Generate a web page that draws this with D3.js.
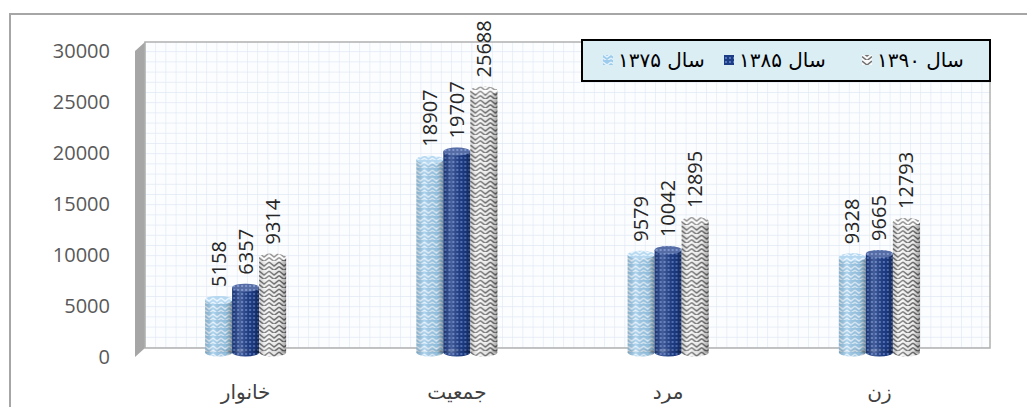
<!DOCTYPE html>
<html>
<head>
<meta charset="utf-8">
<script src="https://cdn.jsdelivr.net/npm/d3@7/dist/d3.min.js"></script>
<style>
  body { margin: 0; background: #fff; }
</style>
</head>
<body>
<svg id="chart" width="1027" height="407"></svg>
<script>
const categories = ["خانوار", "جمعیت", "مرد", "زن"];
const seriesNames = ["سال ۱۳۷۵", "سال ۱۳۸۵", "سال ۱۳۹۰"];
const values1375 = [5158, 18907, 9579, 9328];
const values1385 = [6357, 19707, 10042, 9665];
const values1390 = [9314, 25688, 12895, 12793];
const yTicks = [0, 5000, 10000, 15000, 20000, 25000, 30000];

const width = 1027, height = 407;
const svg = d3.select("#chart");
const defs = svg.append("defs");
const numFont = "'Open Sans', 'Liberation Sans', sans-serif";
const faFont = "'DejaVu Sans', sans-serif";

// patterns
const grid = defs.append("pattern").attr("id", "grid").attr("patternUnits", "userSpaceOnUse")
  .attr("width", 10.2).attr("height", 10.2).attr("x", 145).attr("y", 41);
grid.append("rect").attr("width", 10.2).attr("height", 10.2).attr("fill", "#fcfdff");
grid.append("path").attr("d", "M0,0H10.2M0,0V10.2").attr("stroke", "#e0e8f3").attr("stroke-width", 1.2);

const pLight = defs.append("pattern").attr("id", "pLight").attr("patternUnits", "userSpaceOnUse")
  .attr("width", 8).attr("height", 8);
pLight.append("rect").attr("width", 8).attr("height", 8).attr("fill", "#9ccbeb");
pLight.append("path").attr("d", "M0,2L4,5L8,2M0,6L4,9L8,6").attr("fill", "none")
  .attr("stroke", "#e4f3ff").attr("stroke-width", 1.4);

const pDark = defs.append("pattern").attr("id", "pDark").attr("patternUnits", "userSpaceOnUse")
  .attr("width", 4).attr("height", 4);
pDark.append("rect").attr("width", 4).attr("height", 4).attr("fill", "#1d3c86");
pDark.append("circle").attr("cx", 2).attr("cy", 2).attr("r", 0.9).attr("fill", "#6f90d6");

const pWhite = defs.append("pattern").attr("id", "pWhite").attr("patternUnits", "userSpaceOnUse")
  .attr("width", 10).attr("height", 9);
pWhite.append("rect").attr("width", 10).attr("height", 9).attr("fill", "#fafafa");
pWhite.append("path").attr("d", "M0,1L5,5L10,1M0,5.5L5,9.5L10,5.5").attr("fill", "none")
  .attr("stroke", "#707070").attr("stroke-width", 1.6);

const shade = defs.append("linearGradient").attr("id", "shade");
shade.append("stop").attr("offset", "0%").attr("stop-color", "#000").attr("stop-opacity", 0.15);
shade.append("stop").attr("offset", "30%").attr("stop-color", "#fff").attr("stop-opacity", 0.18);
shade.append("stop").attr("offset", "75%").attr("stop-color", "#000").attr("stop-opacity", 0.05);
shade.append("stop").attr("offset", "100%").attr("stop-color", "#000").attr("stop-opacity", 0.35);

const fills = ["url(#pLight)", "url(#pDark)", "url(#pWhite)"];

// frame
svg.append("rect").attr("x", 10).attr("y", 14).attr("width", 1040).attr("height", 420)
  .attr("fill", "#fff").attr("stroke", "#a6a6a6").attr("stroke-width", 2);

// 3d walls: front scale for the axis, mid-depth scale for the bars
const dx = 10, dy = 9;
const base = 357;
const y = d3.scaleLinear().domain([0, 30000]).range([base, 51]);
const yBar = d3.scaleLinear().domain([0, 30000]).range([base - dy / 2, 51 - dy / 2]);
const x0 = d3.scaleBand().domain(categories).range([140, 985]);
const x1 = d3.scaleBand().domain(seriesNames).range([-40.5, 40.5]);

svg.append("path")
  .attr("d", `M135,${y(30000)}L${135 + dx},${y(30000) - dy}V${base - dy}L135,${base}Z`)
  .attr("fill", "#a6a6a6");
svg.append("rect").attr("x", 135 + dx).attr("y", y(30000) - dy)
  .attr("width", 990 - 135 - dx).attr("height", base - y(30000))
  .attr("fill", "url(#grid)").attr("stroke", "#b0b0b0").attr("stroke-width", 1.5);

// y axis labels
svg.append("g").selectAll("text").data(yTicks).join("text")
  .attr("x", 110).attr("y", d => y(d)).attr("dy", "0.36em")
  .attr("text-anchor", "end").attr("fill", "#595959")
  .style("font-family", numFont).style("font-size", "20px")
  .text(d => d);

// bars
const rows = categories.map((c, i) => seriesNames.map((s, j) => ({
  cat: c, ser: s, j, v: [values1375, values1385, values1390][j][i]
}))).flat();
const bw = x1.bandwidth();
const ry = 4;
const b0 = yBar(0);
const bars = svg.append("g").selectAll("g").data(rows).join("g")
  .attr("transform", d => `translate(${x0(d.cat) + x0.bandwidth() / 2 + x1(d.ser)},0)`);
bars.append("ellipse").attr("cx", bw / 2).attr("cy", b0).attr("rx", bw / 2).attr("ry", ry)
  .attr("fill", d => fills[d.j]);
bars.append("rect").attr("x", 0).attr("y", d => yBar(d.v)).attr("width", bw)
  .attr("height", d => b0 - yBar(d.v)).attr("fill", d => fills[d.j]);
bars.append("ellipse").attr("cx", bw / 2).attr("cy", b0).attr("rx", bw / 2).attr("ry", ry)
  .attr("fill", "url(#shade)");
bars.append("rect").attr("x", 0).attr("y", d => yBar(d.v)).attr("width", bw)
  .attr("height", d => b0 - yBar(d.v)).attr("fill", "url(#shade)");
bars.append("ellipse").attr("cx", bw / 2).attr("cy", d => yBar(d.v)).attr("rx", bw / 2).attr("ry", ry)
  .attr("fill", d => fills[d.j]);
bars.append("ellipse").attr("cx", bw / 2).attr("cy", d => yBar(d.v)).attr("rx", bw / 2).attr("ry", ry)
  .attr("fill", "#fff").attr("opacity", 0.25);

// value labels
bars.append("text")
  .attr("transform", d => `translate(${bw / 2 + 7},${yBar(d.v) - 13}) rotate(-90)`)
  .attr("fill", "#262626")
  .style("font-family", numFont).style("font-size", "20px")
  .text(d => d.v);

// category labels
svg.append("g").selectAll("text").data(categories).join("text")
  .attr("x", d => x0(d) + x0.bandwidth() / 2).attr("y", 399)
  .attr("text-anchor", "middle").attr("fill", "#404040")
  .style("font-family", faFont).style("font-size", "20px")
  .text(d => d);

// legend
const lg = svg.append("g");
lg.append("rect").attr("x", 582).attr("y", 40).attr("width", 408).attr("height", 41)
  .attr("fill", "#dbeef4").attr("stroke", "#000").attr("stroke-width", 2);
const legendX = [603, 724, 862];
const items = lg.selectAll("g").data(seriesNames).join("g")
  .attr("transform", (d, i) => `translate(${legendX[i]},60)`);
items.append("rect").attr("x", 0).attr("y", -5).attr("width", 10).attr("height", 10)
  .attr("fill", (d, i) => fills[i]);
items.append("text").attr("x", 15).attr("y", 0).attr("dy", "0.35em")
  .attr("fill", "#000").attr("direction", "rtl").attr("text-anchor", "end")
  .style("font-family", faFont).style("font-size", "20px").style("font-weight", "normal")
  .text(d => d);
</script>
</body>
</html>
